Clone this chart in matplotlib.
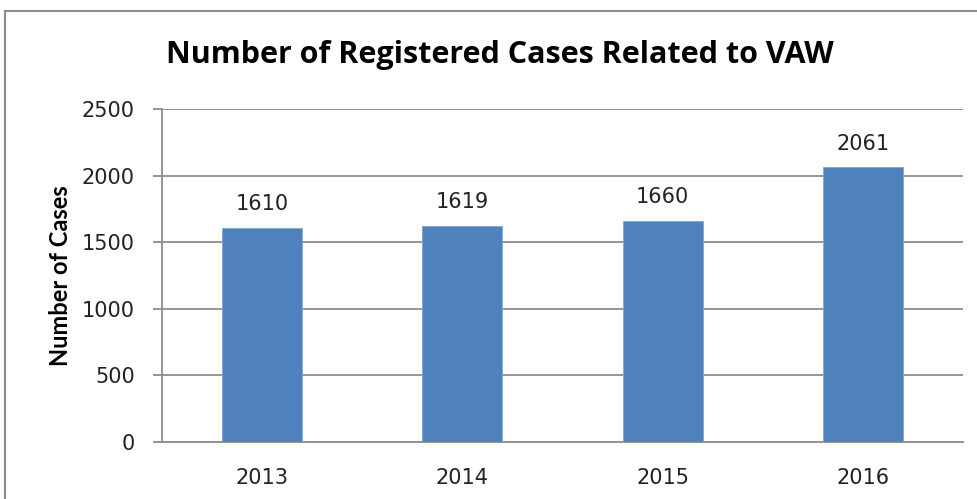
import matplotlib.pyplot as plt
from matplotlib.lines import Line2D

years = ['2013', '2014', '2015', '2016']
cases = [1610, 1619, 1660, 2061]
y_ticks = [0, 500, 1000, 1500, 2000, 2500]

W, H = 977, 499
fig = plt.figure(figsize=(W / 100, H / 100), dpi=100)
ax = fig.add_axes([162 / W, 1 - 442 / H, (963 - 162) / W, (442 - 109) / H])

x = range(len(years))
bars = ax.bar(x, cases, width=0.4, color='#4F81BD', edgecolor='#7FA7D9', linewidth=0.6, zorder=3)

# 柱顶数值
for b, v in zip(bars, cases):
    ax.annotate(str(v), (b.get_x() + b.get_width() / 2, v), xytext=(0, 10),
                textcoords='offset points', ha='center', va='bottom',
                fontsize=15, color='#222222', family='DejaVu Sans')

ax.set_xlim(-0.5, len(years) - 0.5)
ax.set_ylim(0, 2500)
ax.set_yticks(y_ticks)
ax.set_xticks(list(x))
ax.set_xticklabels(years)
ax.grid(axis='y', color='#8C8C8C', linewidth=1.3, zorder=0)
ax.tick_params(axis='y', length=6.5, width=1.3, color='#8C8C8C', labelsize=15, pad=13)
ax.tick_params(axis='x', length=0, labelsize=15, pad=19)
for lbl in ax.get_xticklabels() + ax.get_yticklabels():
    lbl.set_color('#222222')

for s in ['top', 'right']:
    ax.spines[s].set_visible(False)
for s in ['left', 'bottom']:
    ax.spines[s].set_color('#8C8C8C')
    ax.spines[s].set_linewidth(1.3)

ax.set_ylabel('Number of Cases', fontsize=17, fontweight='bold', family='Lato')
ax.yaxis.set_label_coords((72 - 162) / (963 - 162), 0.5)

fig.text(500 / W, 1 - 63 / H, 'Number of Registered Cases Related to VAW',
         ha='center', va='baseline', fontsize=22, fontweight='bold', family='Open Sans')

# 图表区边框（右侧和底部被截掉）
fig.add_artist(Line2D([5 / W, 5 / W], [0, 1 - 11 / H], transform=fig.transFigure,
                      color='#8C8C8C', linewidth=1.5))
fig.add_artist(Line2D([5 / W, 1], [1 - 11 / H, 1 - 11 / H], transform=fig.transFigure,
                      color='#8C8C8C', linewidth=1.5))

fig.savefig('out.png', dpi=100, facecolor='white')
